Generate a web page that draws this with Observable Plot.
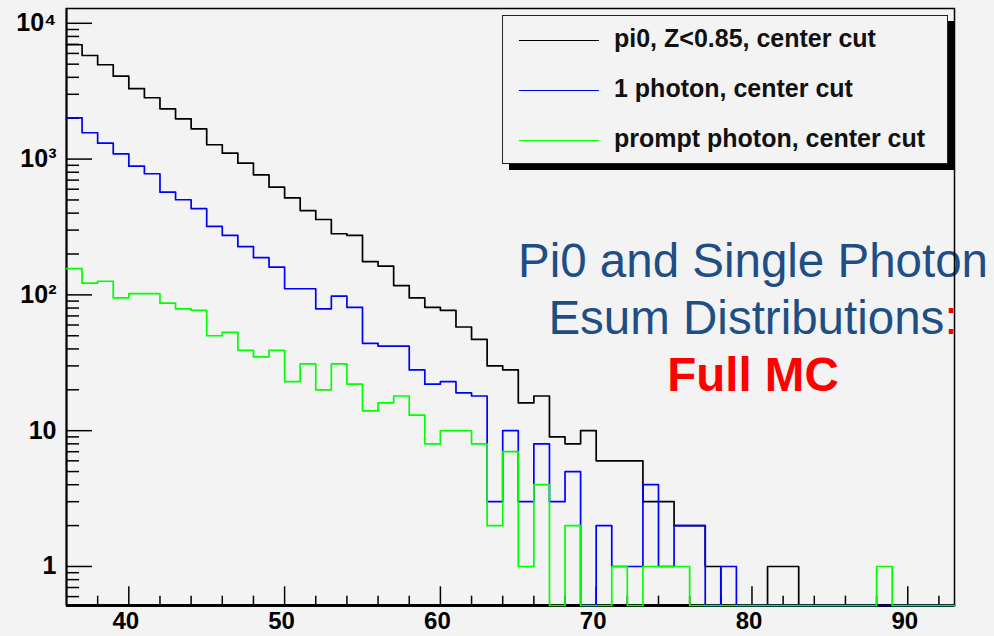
<!DOCTYPE html>
<html>
<head>
<meta charset="utf-8">
<script src="https://cdn.jsdelivr.net/npm/d3@7"></script>
<script src="https://cdn.jsdelivr.net/npm/@observablehq/plot@0.6"></script>
<style>
html, body { margin: 0; padding: 0; background: #f3f3f3; }
#wrap { position: relative; width: 994px; height: 636px; overflow: hidden; font-family: "Liberation Sans", Arial, Helvetica, sans-serif; }
#note { position: absolute; left: 453px; top: 232px; width: 600px; text-align: center; font-size: 47.5px; line-height: 57px; color: #1f4e85; white-space: nowrap; }
#chart { position: absolute; left: 0; top: 0; }
#legend { position: absolute; left: 502px; top: 15px; width: 446px; height: 149px; box-sizing: border-box; border: 1.5px solid #222; background: #f3f3f3; box-shadow: 7px 6px 0 #000; }
.lrow-line { position: absolute; left: 16px; width: 80px; height: 0; border-top: 1.6px solid; }
.lrow-text { position: absolute; left: 111px; font-size: 25px; font-weight: bold; line-height: 30px; color: #111; white-space: nowrap; }
</style>
</head>
<body>
<div id="wrap">
  <div id="note">
    <div>Pi0 and Single Photon</div>
    <div>Esum Distributions<span style="color:#ff0000">:</span></div>
    <div style="color:#ff0000;font-weight:bold">Full MC</div>
  </div>
  <div id="chart"></div>
  <div id="legend"></div>
</div>
<script>
// Lower bin edges (bin width 1)
const binEdges = [36,37,38,39,40,41,42,43,44,45,46,47,48,49,50,51,52,53,54,55,56,57,58,59,60,61,62,63,64,65,66,67,68,69,70,71,72,73,74,75,76,77,78,79,80,81,82,83,84,85,86,87,88,89,90,91,92];
const xMax = 93;

const pi0Counts = [6950,5790,4950,4080,3300,2830,2345,1980,1670,1275,1105,933,766,621,518,418,359,282,274,176,163,117,95,81,77,58,47,30,28,16,18,9,8,10,6,6,6,3,3,2,2,1,0,0,0,1,1,0,0,0,0,0,0,0,0,0,0];
const onePhotonCounts = [2014,1563,1310,1094,887,780,571,502,431,319,274,227,188,160,111,111,79,98,81,44,42,42,28,22,23,19,18,3,10,3,8,3,5,0,2,1,1,4,1,2,2,0,1,0,0,0,0,0,0,0,0,0,0,0,0,0,0];
const promptPhotonCounts = [156,122,126,95,102,102,87,79,77,50,53,39,35,39,23,31,20,31,22,14,16,18,13,8,10,10,8,2,7,1,4,0,2,0,0,1,0,1,1,1,0,0,0,0,0,0,0,0,0,0,0,0,1,0,0,0,0];

const seriesNames = ["pi0, Z<0.85, center cut", "1 photon, center cut", "prompt photon, center cut"];
const seriesColors = ["#000000", "#0000ff", "#00ff00"];

const xTicksMajor = [40, 50, 60, 70, 80, 90];
const xTicksMinor = [38, 42, 44, 46, 48, 52, 54, 56, 58, 62, 64, 66, 68, 72, 74, 76, 78, 82, 84, 86, 88, 92];
const yTicksMajor = [1, 10, 100, 1000, 10000];
const yTickLabels = ["1", "10", "10\u00b2", "10\u00b3", "10\u2074"];
const yTicksMinor = [0.6,0.7,0.8,0.9,2,3,4,5,6,7,8,9,20,30,40,50,60,70,80,90,200,300,400,500,600,700,800,900,2000,3000,4000,5000,6000,7000,8000,9000];
const yDomain = [0.516, 12850];

function histPoints(vals) {
  const pts = binEdges.map((e, i) => ({x: e, v: vals[i]}));
  pts.push({x: xMax, v: vals[vals.length - 1]});
  return pts;
}
const allSeries = [pi0Counts, onePhotonCounts, promptPhotonCounts];
const yAcc = d => Math.max(d.v, yDomain[0]);

const plot = Plot.plot({
  width: 994,
  height: 636,
  marginLeft: 66,
  marginRight: 40,
  marginTop: 8,
  marginBottom: 31,
  style: {background: "transparent", color: "#000", fontFamily: "Liberation Sans, Arial, Helvetica, sans-serif", overflow: "visible"},
  x: {domain: [binEdges[0], xMax], label: null},
  y: {type: "log", domain: yDomain, label: null},
  marks: [
    Plot.axisX(xTicksMajor, {tickSize: -18.7, tickFormat: () => "", label: null, strokeWidth: 1.5}),
    Plot.axisX(xTicksMinor, {tickSize: -9.3, tickFormat: () => "", label: null, strokeWidth: 1.5}),
    Plot.axisX(xTicksMajor, {tickSize: 0, tickPadding: 6, dx: -3, fontSize: 24, fontWeight: "bold", label: null}),
    Plot.axisY(yTicksMajor, {tickSize: -26, tickFormat: () => "", label: null, strokeWidth: 1.5}),
    Plot.axisY(yTicksMinor, {tickSize: -13, tickFormat: () => "", label: null, strokeWidth: 1.5}),
    Plot.axisY(yTicksMajor, {tickSize: 0, tickPadding: 10, fontSize: 25, fontWeight: "bold", label: null,
      tickFormat: d => yTickLabels[yTicksMajor.indexOf(d)]}),
    Plot.frame({stroke: "#000", strokeWidth: 1.5}),
    Plot.ruleY([yDomain[0]], {stroke: "#000", strokeWidth: 3}),
    Plot.ruleX([binEdges[0]], {stroke: "#000", strokeWidth: 2}),
    ...allSeries.map((vals, i) => Plot.line(histPoints(vals), {
      x: "x", y: yAcc, curve: "step-after", stroke: seriesColors[i], strokeWidth: 1.7
    }))
  ]
});
document.getElementById("chart").appendChild(plot);

// Legend
const legend = document.getElementById("legend");
seriesNames.forEach((name, i) => {
  const cy = 24.3 + i * 50;
  const ln = document.createElement("div");
  ln.className = "lrow-line";
  ln.style.top = (cy - 0.8) + "px";
  ln.style.borderTopColor = seriesColors[i];
  legend.appendChild(ln);
  const tx = document.createElement("div");
  tx.className = "lrow-text";
  tx.style.top = (cy - 17) + "px";
  tx.textContent = name;
  legend.appendChild(tx);
});
</script>
</body>
</html>
